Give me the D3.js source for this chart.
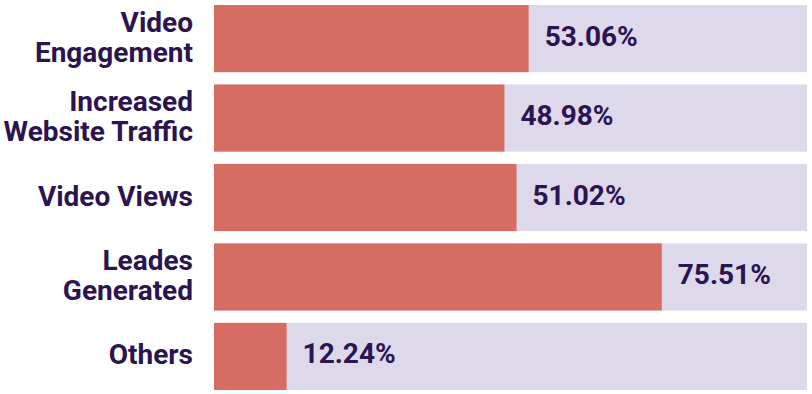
<!DOCTYPE html>
<html>
<head>
<meta charset="utf-8">
<script src="https://cdn.jsdelivr.net/npm/d3@7"></script>
<style>
  html, body { margin: 0; padding: 0; background: #fff; }
  #chart { width: 812px; height: 394px; }
</style>
</head>
<body>
<div id="chart"></div>
<script>
const categories = [
  "Video\nEngagement",
  "Increased\nWebsite Traffic",
  "Video Views",
  "Leades\nGenerated",
  "Others",
];
const values = [53.06, 48.98, 51.02, 75.51, 12.24];

const width = 812;
const height = 394;

const barColor = "#d66d62";
const trackColor = "#ddd8ea";
const textColor = "#2b1450";
const fontFamily = "Roboto, 'Liberation Sans', sans-serif";

const svg = d3.select("#chart")
  .append("svg")
  .attr("width", width)
  .attr("height", height)
  .attr("viewBox", `0 0 ${width} ${height}`);

const x = d3.scaleLinear().domain([0, 100]).range([214, 807]);
const y = d3.scaleBand()
  .domain(categories)
  .range([5, 390])
  .paddingInner(0.155)
  .paddingOuter(0);

const rows = svg.selectAll("g.row")
  .data(categories.map((c, i) => ({ cat: c, value: values[i] })))
  .join("g")
  .attr("class", "row")
  .attr("transform", d => `translate(0, ${y(d.cat)})`);

// background track
rows.append("rect")
  .attr("x", x(0))
  .attr("width", x(100) - x(0))
  .attr("height", y.bandwidth())
  .attr("fill", trackColor);

// value bar
rows.append("rect")
  .attr("x", x(0))
  .attr("width", d => x(d.value) - x(0))
  .attr("height", y.bandwidth())
  .attr("fill", barColor);

// value labels
rows.append("text")
  .attr("x", d => x(d.value) + 16)
  .attr("y", y.bandwidth() / 2 - 3)
  .attr("dy", "0.36em")
  .attr("fill", textColor)
  .attr("font-family", fontFamily)
  .attr("font-weight", 700)
  .attr("font-size", 28)
  .text(d => d.value.toFixed(2) + "%");

// category labels, right aligned, possibly two lines
const lineHeight = 30;
rows.append("text")
  .attr("text-anchor", "end")
  .attr("fill", textColor)
  .attr("font-family", fontFamily)
  .attr("font-weight", 700)
  .attr("font-size", 28)
  .each(function (d) {
    const lines = d.cat.split("\n");
    const first = y.bandwidth() / 2 - 2 - (lines.length - 1) * lineHeight / 2;
    d3.select(this).selectAll("tspan")
      .data(lines)
      .join("tspan")
      .attr("x", 193)
      .attr("y", (l, i) => first + i * lineHeight)
      .attr("dy", "0.36em")
      .text(l => l);
  });
</script>
</body>
</html>
